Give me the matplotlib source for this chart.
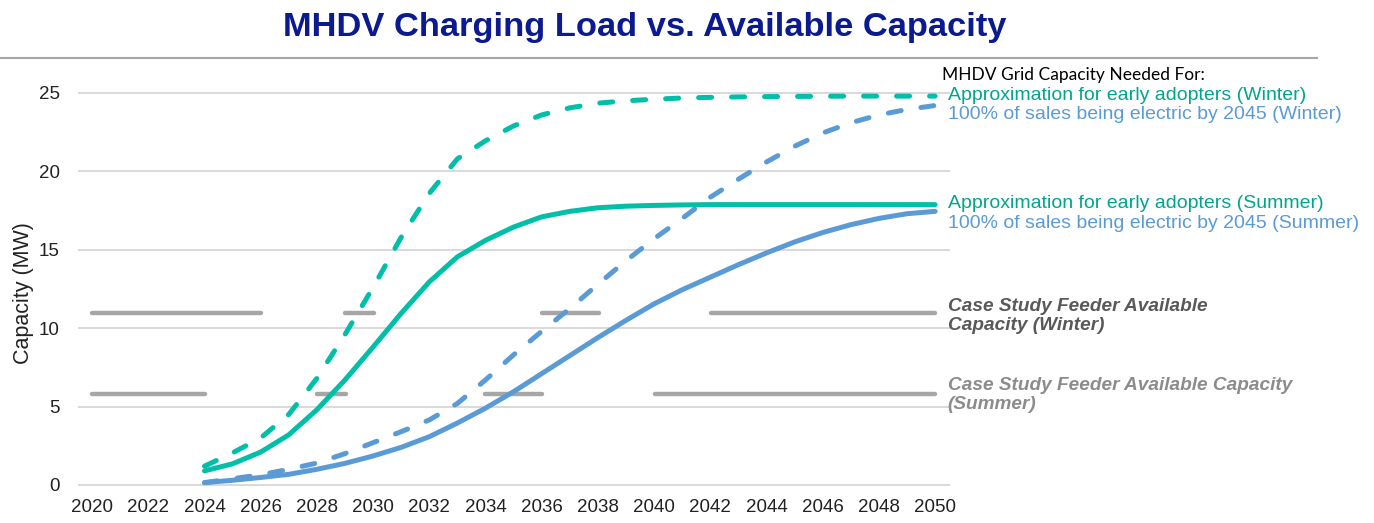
import numpy as np
import matplotlib
matplotlib.use("Agg")
import matplotlib.pyplot as plt
from matplotlib.lines import Line2D

plt.rcParams['font.family'] = ['Liberation Sans', 'DejaVu Sans']
plt.rcParams['lines.scale_dashes'] = False

# MHDV charging load projections (MW), one value per year
years = np.arange(2024, 2051)
early_winter = [1.2, 2.05, 3.0, 4.5, 6.8, 9.6, 12.6, 15.8, 18.6, 20.8,
                21.95, 22.9, 23.6, 24.05, 24.35, 24.5, 24.6, 24.68, 24.72,
                24.75, 24.77, 24.78, 24.79, 24.8, 24.8, 24.8, 24.8]
early_summer = [0.9, 1.35, 2.1, 3.2, 4.8, 6.7, 8.8, 10.95, 12.95, 14.55,
                15.6, 16.45, 17.1, 17.45, 17.68, 17.78, 17.83, 17.86, 17.88,
                17.88, 17.88, 17.88, 17.88, 17.88, 17.88, 17.88, 17.88]
full_winter = [0.15, 0.4, 0.65, 1.0, 1.4, 2.0, 2.7, 3.4, 4.15, 5.2,
               6.7, 8.3, 9.8, 11.25, 12.8, 14.3, 15.7, 17.0, 18.35,
               19.5, 20.6, 21.6, 22.45, 23.1, 23.6, 23.95, 24.2]
full_summer = [0.15, 0.3, 0.48, 0.68, 1.0, 1.38, 1.85, 2.4, 3.08, 3.95,
               4.9, 5.95, 7.1, 8.25, 9.4, 10.5, 11.55, 12.45, 13.25,
               14.05, 14.8, 15.5, 16.1, 16.6, 17.0, 17.3, 17.45]

# feeder available capacity (MW)
feeder_winter = 10.95
feeder_summer = 5.8
axis_years = [2020, 2050]

teal = '#00bfa8'
teal_text = '#00a58e'
blue = '#5b9bd5'
gray = '#a6a6a6'

fig = plt.figure(figsize=(13.74, 5.23), dpi=100)
ax = fig.add_axes([0.0568, 0.0637, 0.6346, 0.7885])

# px -> pt helper for dash patterns (figure at 100 dpi)
def px(*vals):
    return [v * 0.72 for v in vals]

curve_dash = px(13, 20)
lw = 3.6

ax.hlines(feeder_winter, axis_years[0], axis_years[1], color=gray, lw=3.2,
          linestyles=[(0, px(169, 84, 29, 168, 57, 112, 400, 10))],
          capstyle='round', zorder=2)
ax.hlines(feeder_summer, axis_years[0], axis_years[1], color=gray, lw=3.2,
          linestyles=[(0, px(113, 112, 29, 139, 57, 113, 400, 10))],
          capstyle='round', zorder=2)

ax.plot(years, early_winter, color=teal, lw=lw, dashes=curve_dash,
        dash_capstyle='round', zorder=3)
ax.plot(years, full_winter, color=blue, lw=lw, dashes=curve_dash,
        dash_capstyle='round', zorder=3)
ax.plot(years, early_summer, color=teal, lw=lw, solid_capstyle='round', zorder=3)
ax.plot(years, full_summer, color=blue, lw=lw, solid_capstyle='round', zorder=3)

ax.set_xlim(2019.5, 2050.53)
ax.set_ylim(-0.3, 26)
ax.set_xticks(np.arange(2020, 2051, 2))
ax.set_yticks(np.arange(0, 26, 5))
ax.tick_params(length=0, labelsize=13.5, colors='#222222')
ax.tick_params(axis='x', pad=7)
ax.tick_params(axis='y', pad=13)
ax.grid(axis='y', color='#d9d9d9', lw=1.4)
ax.set_axisbelow(True)
for s in ax.spines.values():
    s.set_visible(False)
ax.set_ylabel('Capacity (MW)', fontsize=15.5, color='#222222')
ax.yaxis.set_label_coords(-0.050, 0.476)

# labels at the right of the lines
lx = 2050.45
fs = 14
ax.text(2050.25, 26.15, 'MHDV Grid Capacity Needed For:', fontsize=12.5,
        family=['Lato', 'DejaVu Sans'], color='black', va='center', clip_on=False)
ax.text(lx, 24.87, 'Approximation for early adopters (Winter)', fontsize=fs,
        color=teal_text, va='center', clip_on=False)
ax.text(lx, 23.6, '100% of sales being electric by 2045 (Winter)', fontsize=fs,
        color=blue, va='center', clip_on=False)
ax.text(lx, 17.98, 'Approximation for early adopters (Summer)', fontsize=fs,
        color=teal_text, va='center', clip_on=False)
ax.text(lx, 16.7, '100% of sales being electric by 2045 (Summer)', fontsize=fs,
        color=blue, va='center', clip_on=False)
ax.text(lx, 10.78, 'Case Study Feeder Available\nCapacity (Winter)', fontsize=13.7,
        color='#595959', fontweight='bold', fontstyle='italic', va='center',
        linespacing=1.22, clip_on=False)
ax.text(lx, 5.74, 'Case Study Feeder Available Capacity\n(Summer)', fontsize=13.7,
        color='#8c8c8c', fontweight='bold', fontstyle='italic', va='center',
        linespacing=1.22, clip_on=False)

fig.text(0.469, 0.948, 'MHDV Charging Load vs. Available Capacity',
         family=['Liberation Sans Narrow', 'Liberation Sans'], fontsize=24.8,
         fontweight='bold', color='#0b1a8e', ha='center', va='center')
fig.add_artist(Line2D([0, 0.9585], [0.889, 0.889], color=gray, lw=1.5))

fig.savefig('out.png', dpi=100)
